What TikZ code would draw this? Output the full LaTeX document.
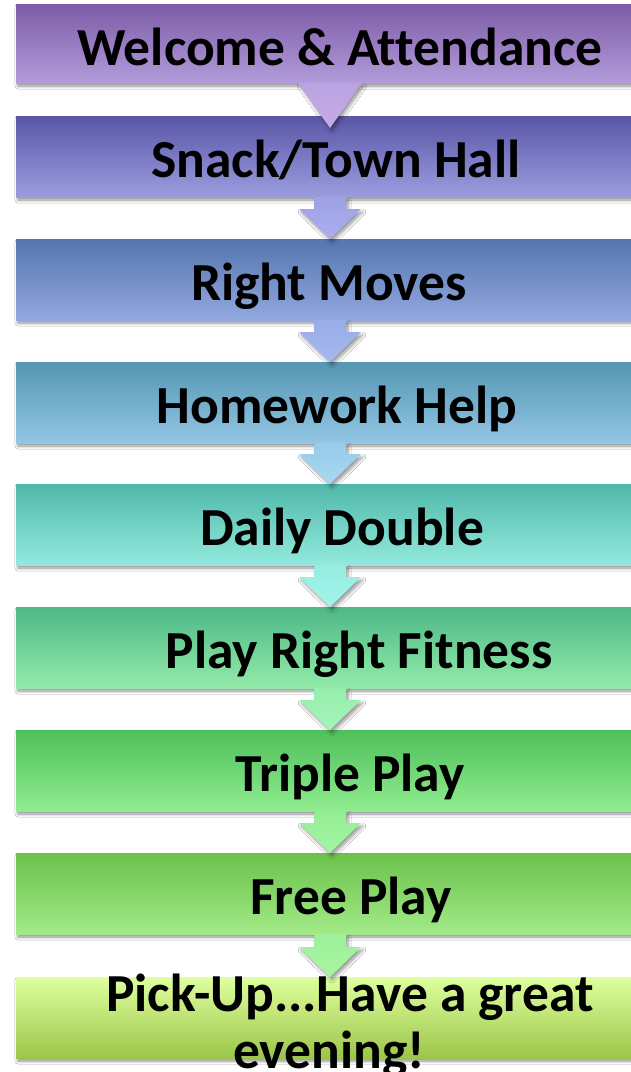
\documentclass[tikz,border=0pt]{standalone}
\usepackage{fontspec}
\setmainfont{Carlito}[Ligatures=NoCommon]
\usetikzlibrary{shadows.blur}
\definecolor{bA1}{HTML}{7D5BA6}\definecolor{bA2}{HTML}{B39CDB}
\definecolor{bB1}{HTML}{5A56A7}\definecolor{bB2}{HTML}{9B9DDF}
\definecolor{bC1}{HTML}{5575AE}\definecolor{bC2}{HTML}{93A8E0}
\definecolor{bD1}{HTML}{5596B2}\definecolor{bD2}{HTML}{92C6E4}
\definecolor{bE1}{HTML}{50B8AA}\definecolor{bE2}{HTML}{92EADD}
\definecolor{bF1}{HTML}{4EB887}\definecolor{bF2}{HTML}{93EBA9}
\definecolor{bG1}{HTML}{4EC05A}\definecolor{bG2}{HTML}{90EC90}
\definecolor{bH1}{HTML}{6BC24B}\definecolor{bH2}{HTML}{A2EA88}
\definecolor{bI1}{HTML}{DEFF9E}\definecolor{bI2}{HTML}{9CC64A}
\definecolor{aA1}{HTML}{BBA2E0}\definecolor{aA2}{HTML}{C4ACE8}
\definecolor{aB1}{HTML}{9EA2E6}\definecolor{aB2}{HTML}{AAAEEC}
\definecolor{aC1}{HTML}{98ACE8}\definecolor{aC2}{HTML}{A6B8EE}
\definecolor{aD1}{HTML}{98CAEA}\definecolor{aD2}{HTML}{A8D8F2}
\definecolor{aE1}{HTML}{96ECE0}\definecolor{aE2}{HTML}{A2F4EA}
\definecolor{aF1}{HTML}{96EEAE}\definecolor{aF2}{HTML}{A4F4B8}
\definecolor{aG1}{HTML}{94EE94}\definecolor{aG2}{HTML}{A4F4A2}
\definecolor{aH1}{HTML}{9EF09A}\definecolor{aH2}{HTML}{A8F4A2}
\tikzset{
  stagebox/.style={rectangle, anchor=north west, minimum width=628pt, minimum height=81pt,
    inner sep=0pt, outer sep=0pt,
    blur shadow={shadow xshift=2pt, shadow yshift=-3pt, shadow blur steps=6, shadow blur radius=3pt, shadow opacity=45}},
  lbl/.style={anchor=base, inner sep=0pt, font=\fontsize{53.5}{57}\selectfont\bfseries, text=black},
  flowarrow/.style={blur shadow={shadow xshift=2pt, shadow yshift=-3pt, shadow blur steps=6, shadow blur radius=3pt, shadow opacity=40}}
}
\begin{document}
\begin{tikzpicture}[x=1pt,y=-1pt]
\useasboundingbox (0,0) rectangle (631,1072);
\clip (0,0) rectangle (631,1072);
\fill[white] (0,0) rectangle (631,1072);
% boxes
\node[stagebox, minimum height=79pt, top color=bA1, bottom color=bA2] (b1) at (16,4) {};
\node[stagebox, top color=bB1, bottom color=bB2] (b2) at (16,116) {};
\node[stagebox, top color=bC1, bottom color=bC2] (b3) at (16,239) {};
\node[stagebox, top color=bD1, bottom color=bD2] (b4) at (16,362) {};
\node[stagebox, top color=bE1, bottom color=bE2] (b5) at (16,484) {};
\node[stagebox, top color=bF1, bottom color=bF2] (b6) at (16,607) {};
\node[stagebox, top color=bG1, bottom color=bG2] (b7) at (16,730) {};
\node[stagebox, top color=bH1, bottom color=bH2] (b8) at (16,853) {};
\node[stagebox, top color=bI1, bottom color=bI2] (b9) at (16,977) {};
% first arrow: plain triangle
\path[flowarrow, top color=aA1, bottom color=aA2]
  ([xshift=-32pt]b1.south) -- ([xshift=32pt]b1.south) -- ([yshift=-12pt]b2.north) -- cycle;
% remaining arrows
\foreach \u/\v/\ca/\cb in {b2/b3/aB1/aB2, b3/b4/aC1/aC2, b4/b5/aD1/aD2, b5/b6/aE1/aE2,
                           b6/b7/aF1/aF2, b7/b8/aG1/aG2, b8/b9/aH1/aH2}{
  \path[flowarrow, top color=\ca, bottom color=\cb]
    ([xshift=-16pt]\u.south) -- ([xshift=16pt]\u.south)
    -- ([xshift=16pt,yshift=30pt]\v.north) -- ([xshift=31pt,yshift=30pt]\v.north)
    -- (\v.north) -- ([xshift=-31pt,yshift=30pt]\v.north)
    -- ([xshift=-16pt,yshift=30pt]\v.north) -- cycle;
}
% labels
\node[lbl] (t1) at (340,65) {Welcome \& Attendance};
\node[lbl] (t2) at (336,177) {Snack/Town Hall};
\node[lbl] (t3) at (329,300) {Right Moves};
\node[lbl] (t4) at (337,423) {Homework Help};
\node[lbl] (t5) at (342,545) {Daily Double};
\node[lbl] (t6) at (359,668) {Play Right Fitness};
\node[lbl] (t7) at (350,791) {Triple Play};
\node[lbl] (t8) at (351,914) {Free Play};
\node[lbl, align=center] (t9) at (350,1068) {Pick-Up...Have a great\\evening!\hspace*{42pt}};
\end{tikzpicture}
\end{document}
